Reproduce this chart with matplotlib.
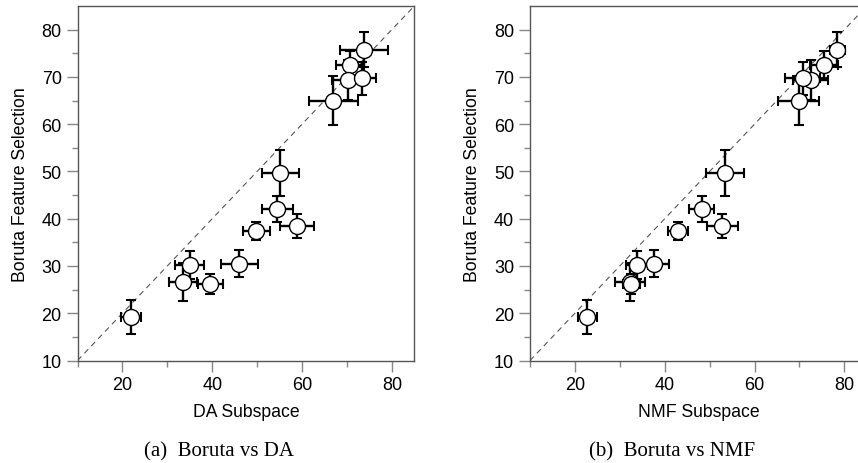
import numpy as np
from matplotlib import pyplot as plt

# Boruta feature selection scores (shared y in both panels)
boruta = [75.7, 72.6, 69.4, 69.7, 65.0, 49.7, 42.1, 38.5, 37.3, 30.5, 30.2, 26.6, 26.2, 19.2]
boruta_err = [3.7, 2.8, 4.2, 3.5, 5.2, 4.8, 2.8, 2.6, 1.9, 2.8, 3.0, 4.1, 2.1, 3.6]

# DA subspace scores
da = [73.8, 70.7, 70.2, 73.3, 67.0, 55.2, 54.5, 58.8, 49.8, 46.0, 35.0, 33.5, 39.6, 21.9]
da_err = [5.3, 3.1, 3.5, 3.1, 5.4, 4.2, 3.5, 3.8, 3.0, 4.1, 3.2, 3.2, 2.8, 2.2]

# NMF subspace scores
nmf = [78.4, 75.5, 72.5, 70.7, 69.8, 53.4, 48.2, 52.8, 43.0, 37.7, 33.8, 32.3, 32.6, 22.8]
nmf_err = [1.7, 3.15, 3.9, 3.9, 4.5, 4.3, 2.7, 3.45, 2.2, 3.3, 2.45, 3.4, 2.0, 2.1]

xlabels = ['DA Subspace', 'NMF Subspace']
captions = ['(a)  Boruta vs DA', '(b)  Boruta vs NMF']

plt.rcParams['font.family'] = ['Liberation Sans', 'DejaVu Sans']

W, H = 858, 464
fig = plt.figure(figsize=(W / 100, H / 100), dpi=100)

lo, hi = 10, 85
spine_col = '#555555'

def panel(left_px, xs, xerr, xlabel, caption, cap_x):
    right_px = left_px + 336.8
    ax = fig.add_axes([left_px / W, (H - 361.5) / H, (right_px - left_px) / W, 354.5 / H])
    ax.plot([lo, hi], [lo, hi], ls=(0, (5, 4)), color='#555555', lw=0.8, zorder=1)
    ax.errorbar(xs, boruta, xerr=xerr, yerr=boruta_err, fmt='none', ecolor='black',
                elinewidth=1.7, capsize=3.5, capthick=1.5, zorder=2)
    ax.plot(xs, boruta, 'o', ms=11.5, mfc='white', mec='black', mew=1.0, zorder=3)
    ax.set_xlim(lo, hi)
    ax.set_ylim(lo, hi)
    ax.set_xticks([20, 40, 60, 80])
    ax.set_xticks([10, 30, 50, 70], minor=True)
    ax.set_yticks(np.arange(10, 81, 10))
    ax.set_yticks(np.arange(15, 81, 10), minor=True)
    ax.tick_params(which='major', length=8, width=1, color='#888888', labelsize=13, pad=3.4)
    ax.tick_params(which='minor', length=4, width=1, color='#888888')
    for s in ax.spines.values():
        s.set_color(spine_col)
        s.set_linewidth(1.0)
    ax.set_xlabel(xlabel, fontsize=12.7, labelpad=7)
    ax.set_ylabel('Boruta Feature Selection', fontsize=12.7, labelpad=9)
    fig.text(cap_x / W, 1 - 452 / H, caption, ha='center', va='center',
             family=['Liberation Serif', 'DejaVu Serif'], fontsize=15)
    return ax

panel(77.5, da, da_err, xlabels[0], captions[0], 219)
# right panel runs a little past the figure edge
panel(530, nmf, nmf_err, xlabels[1], captions[1], 671.7)

fig.savefig('out.png', dpi=100)
